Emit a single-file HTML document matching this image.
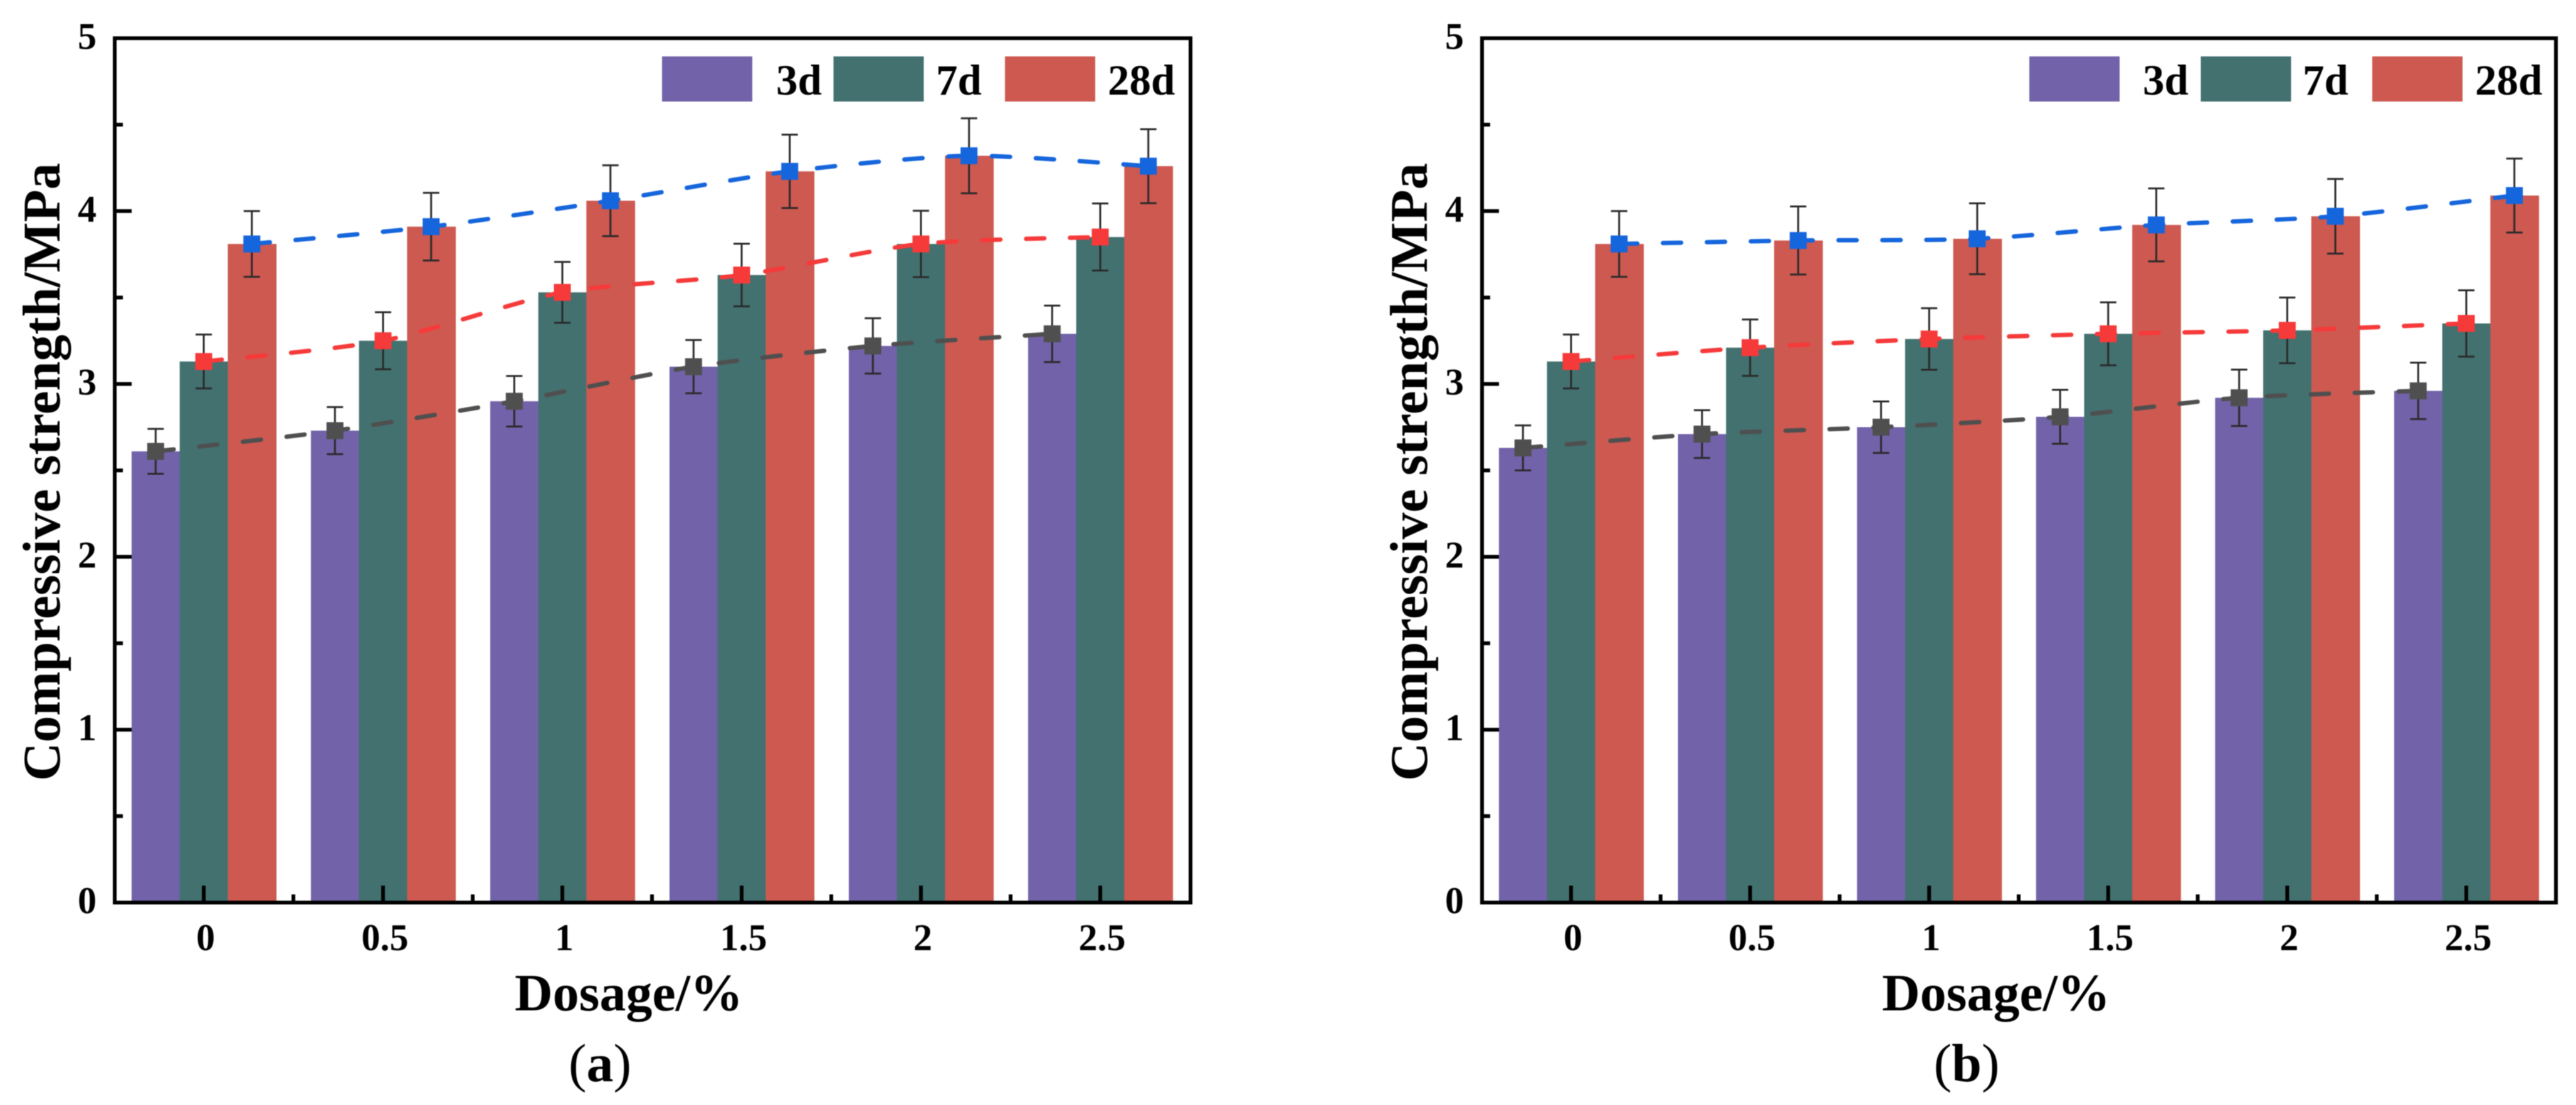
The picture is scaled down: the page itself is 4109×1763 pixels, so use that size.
<!DOCTYPE html>
<html lang="en">
<head>
<meta charset="utf-8">
<title>Compressive strength vs dosage</title>
<style>
html,body{margin:0;padding:0;background:#fff;width:4109px;height:1763px;overflow:hidden}
svg{display:block;filter:blur(0.7px)}
text{font-family:"Liberation Serif",serif;fill:#000}
</style>
</head>
<body>
<svg id="figure" xmlns="http://www.w3.org/2000/svg" width="4109" height="1763" viewBox="0 0 4109 1763"></svg>
<script>
// Shared categories and axis tick labels
const categories = ["0", "0.5", "1", "1.5", "2", "2.5"];
const yTickLabels = [0, 1, 2, 3, 4, 5];
const seriesNames = ["3d", "7d", "28d"];

// Panel (a) values
const panelA3d = [2.61, 2.73, 2.90, 3.10, 3.22, 3.29];
const panelA7d = [3.13, 3.25, 3.53, 3.63, 3.81, 3.85];
const panelA28d = [3.81, 3.91, 4.06, 4.23, 4.32, 4.26];
const panelA3dErr = [0.13, 0.136, 0.146, 0.154, 0.16, 0.163];
const panelA7dErr = [0.156, 0.165, 0.176, 0.181, 0.192, 0.194];
const panelA28dErr = [0.19, 0.196, 0.205, 0.212, 0.217, 0.214];

// Panel (b) values
const panelB3d = [2.63, 2.71, 2.75, 2.81, 2.92, 2.96];
const panelB7d = [3.13, 3.21, 3.26, 3.29, 3.31, 3.35];
const panelB28d = [3.81, 3.83, 3.84, 3.92, 3.97, 4.09];
const panelB3dErr = [0.13, 0.138, 0.149, 0.156, 0.163, 0.163];
const panelB7dErr = [0.156, 0.163, 0.178, 0.182, 0.19, 0.192];
const panelB28dErr = [0.19, 0.197, 0.205, 0.211, 0.216, 0.214];

const barColors = ["#7262a9", "#427170", "#cd5950"];
const lineColors = ["#4f4f4f", "#f63a3a", "#1565dc"];

const SVG_NS = "http://www.w3.org/2000/svg";
const root = document.getElementById("figure");

function make(tag, attrs, parent, content) {
  const el = document.createElementNS(SVG_NS, tag);
  for (const k in attrs) el.setAttribute(k, attrs[k]);
  if (content !== undefined) el.textContent = content;
  (parent || root).appendChild(el);
  return el;
}

function smoothPath(pts) {
  const k = 8;
  let d = "M" + pts[0][0] + " " + pts[0][1];
  for (let i = 0; i < pts.length - 1; i++) {
    const p0 = pts[Math.max(i - 1, 0)], p1 = pts[i], p2 = pts[i + 1], p3 = pts[Math.min(i + 2, pts.length - 1)];
    const c1x = p1[0] + (p2[0] - p0[0]) / k, c1y = p1[1] + (p2[1] - p0[1]) / k;
    const c2x = p2[0] - (p3[0] - p1[0]) / k, c2y = p2[1] - (p3[1] - p1[1]) / k;
    d += " C" + c1x + " " + c1y + " " + c2x + " " + c2y + " " + p2[0] + " " + p2[1];
  }
  return d;
}

function drawPanel(cfg) {
  const yBase = 1440, yTop = 61;
  const yScale = v => yBase - (yBase - yTop) * v / 5;
  const xScale = i => cfg.x0 + cfg.step * i;
  const barW = 76.7;
  const offset = s => (s - 1) * barW;

  const g = make("g", {});
  
  

  // Bars
  cfg.values.forEach((vals, s) => {
    vals.forEach((v, i) => {
      const bar = make("rect", {
        x: xScale(i) + offset(s) - barW / 2,
        y: yScale(v),
        width: barW + (s === 2 ? 1 : 0.5),
        height: yBase - yScale(v),
        fill: barColors[s]
      }, g);
      
      
    });
  });

  // Dashed trend lines
  cfg.values.forEach((vals, s) => {
    const pts = vals.map((v, i) => [xScale(i) + offset(s), yScale(v)]);
    const line = make("path", {
      d: smoothPath(pts),
      fill: "none",
      stroke: lineColors[s],
      "stroke-width": 7,
      "stroke-linecap": "round",
      "stroke-dasharray": "29 41"
    }, g);
    
    
  });

  // Error bars
  cfg.errors.forEach((errs, s) => {
    errs.forEach((e, i) => {
      const v = cfg.values[s][i];
      const x = xScale(i) + offset(s);
      const hi = yScale(v + e), lo = yScale(v - e);
      const eg = make("path", {
        d: "M" + x + " " + hi + " V" + lo + " M" + (x - 13) + " " + hi + " H" + (x + 13) + " M" + (x - 13) + " " + lo + " H" + (x + 13),
        fill: "none",
        stroke: "#2a2a2a",
        "stroke-width": 3
      }, g);
      
      
    });
  });

  // Markers
  cfg.values.forEach((vals, s) => {
    vals.forEach((v, i) => {
      const m = make("rect", {
        x: xScale(i) + offset(s) - 13.5,
        y: yScale(v) - 13.5,
        width: 27,
        height: 27,
        fill: lineColors[s]
      }, g);
      
      
    });
  });

  // Frame
  const frame = make("rect", {
    x: cfg.left, y: yTop, width: cfg.right - cfg.left, height: yBase - yTop,
    fill: "none", stroke: "#000", "stroke-width": 6
  }, g);
  
  

  // Y ticks
  yTickLabels.forEach(t => {
    const y = yScale(t);
    if (t > 0 && t < 5) {
      const tick = make("line", { x1: cfg.left, x2: cfg.left + 27, y1: y, y2: y, stroke: "#000", "stroke-width": 6 }, g);
      
      
    }
    if (t < 5) {
      const ym = yScale(t + 0.5);
      const minor = make("line", { x1: cfg.left, x2: cfg.left + 13, y1: ym, y2: ym, stroke: "#000", "stroke-width": 6 }, g);
      
      
    }
    const lab = make("text", {
      x: cfg.left - 29, y: y + 17, "text-anchor": "end", "font-size": 60, "font-weight": "bold"
    }, g, String(t));
    
    
  });

  // X ticks
  categories.forEach((c, i) => {
    const x = xScale(i);
    const tick = make("line", { x1: x, x2: x, y1: yBase, y2: yBase - 27, stroke: "#000", "stroke-width": 6 }, g);
    
    
    if (i < categories.length - 1) {
      const xm = xScale(i + 0.5);
      const minor = make("line", { x1: xm, x2: xm, y1: yBase, y2: yBase - 13, stroke: "#000", "stroke-width": 6 }, g);
      
      
    }
    const lab = make("text", {
      x: x + 3, y: 1516, "text-anchor": "middle", "font-size": 60, "font-weight": "bold"
    }, g, c);
    
    
  });

  // Axis titles
  const xTitle = make("text", {
    x: cfg.xTitleX, y: 1612, "font-size": 84, "font-weight": "bold"
  }, g, "Dosage/%");
  
  

  const yTitle = make("text", {
    x: cfg.yTitleX, y: 753, "text-anchor": "middle", "font-size": 85, "font-weight": "bold",
    transform: "rotate(-90 " + cfg.yTitleX + " 753)"
  }, g, "Compressive strength/MPa");
  
  

  // Legend
  const legend = make("g", {}, g);
  
  
  seriesNames.forEach((n, s) => {
    const sw = make("rect", { x: cfg.legendSwatchX(s), y: 90, width: 144, height: 72, fill: barColors[s] }, legend);
    
    
    const tx = make("text", { x: cfg.legendTextX(s), y: 151, "font-size": 69, "font-weight": "bold" }, legend, n);
    
    
  });

  // Panel caption
  const cap = make("text", {
    x: cfg.captionX, y: 1725, "text-anchor": "middle", "font-size": 86
  }, g);
  
  
  make("tspan", {}, cap, "(");
  make("tspan", { "font-weight": "bold" }, cap, cfg.id);
  make("tspan", {}, cap, ")");
}

drawPanel({
  id: "a", left: 183, right: 1899, x0: 325, step: 286,
  values: [panelA3d, panelA7d, panelA28d],
  errors: [panelA3dErr, panelA7dErr, panelA28dErr],
  xTitleX: 821, yTitleX: 95, captionX: 957,
  legendSwatchX: s => 1056 + s * 273.5,
  legendTextX: s => (s === 2 ? 1767 : 1238 + s * 255)
});

drawPanel({
  id: "b", left: 2364, right: 4077, x0: 2506, step: 285.6,
  values: [panelB3d, panelB7d, panelB28d],
  errors: [panelB3dErr, panelB7dErr, panelB28dErr],
  xTitleX: 3002, yTitleX: 2276, captionX: 3137,
  legendSwatchX: s => 3237 + s * 273.5,
  legendTextX: s => (s === 2 ? 3948 : 3418 + s * 255)
});
</script>
</body>
</html>
